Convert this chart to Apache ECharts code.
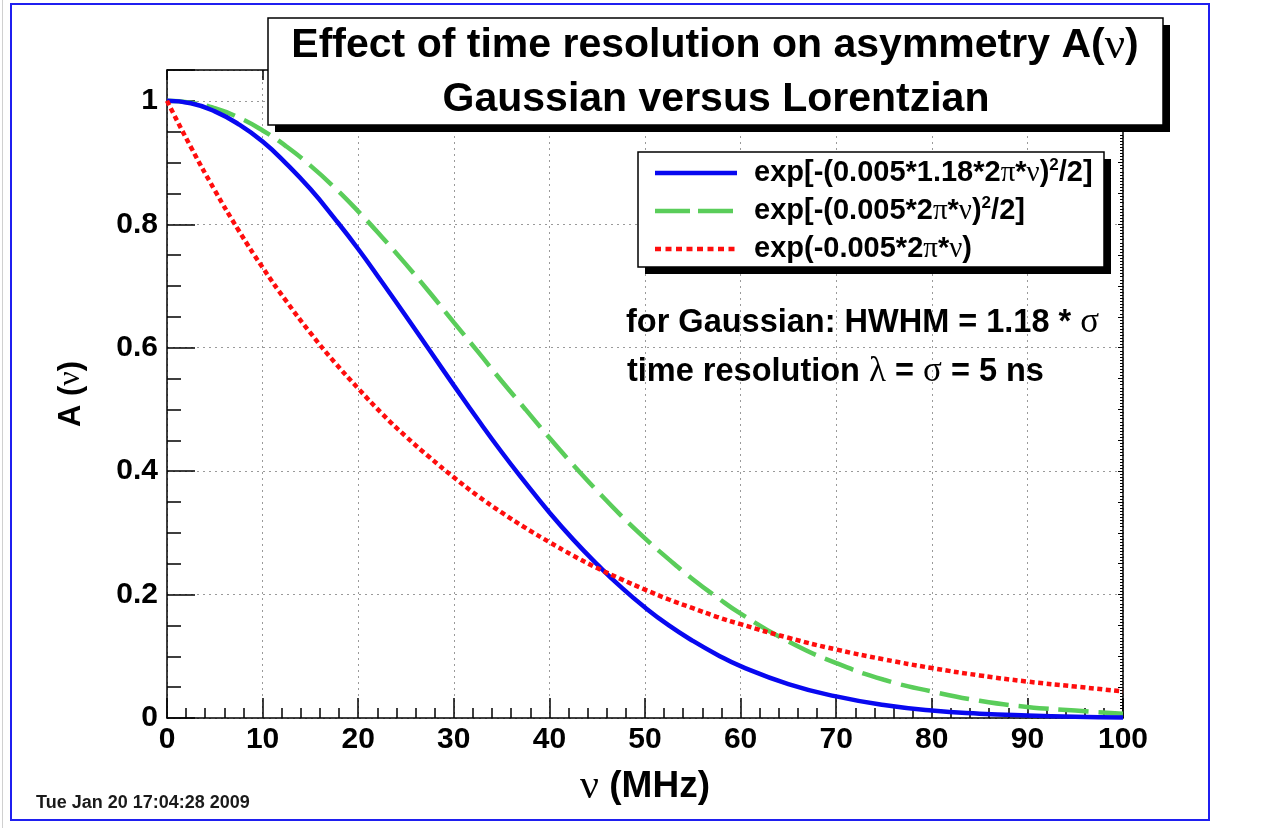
<!DOCTYPE html>
<html>
<head>
<meta charset="utf-8">
<script src="https://cdn.jsdelivr.net/npm/echarts@6/dist/echarts.min.js"></script>
<style>html,body{margin:0;padding:0;background:#fff;}#c{width:1288px;height:828px;}</style>
</head>
<body>
<div id="c"></div>
<script>
// frequency nu (MHz)
var nu = [0,2.5,5,7.5,10,12.5,15,17.5,20,22.5,25,27.5,30,32.5,35,37.5,40,42.5,45,47.5,50,52.5,55,57.5,60,65,70,75,80,85,90,95,100];
// Gaussian with HWHM factor (blue)
var gaussHWHM = [1,0.996,0.983,0.962,0.934,0.898,0.857,0.810,0.760,0.706,0.651,0.595,0.539,0.484,0.431,0.381,0.333,0.289,0.249,0.212,0.179,0.150,0.125,0.103,0.084,0.055,0.035,0.021,0.012,0.007,0.004,0.002,0.001];
// Gaussian (green dashed)
var gauss = [1,0.997,0.988,0.973,0.952,0.926,0.895,0.860,0.821,0.779,0.735,0.689,0.641,0.594,0.546,0.500,0.454,0.410,0.368,0.328,0.291,0.257,0.225,0.196,0.169,0.124,0.089,0.062,0.043,0.028,0.018,0.012,0.007];
// Lorentzian / exponential (red dotted)
var lorentz = [1,0.925,0.855,0.790,0.730,0.675,0.624,0.577,0.534,0.493,0.456,0.422,0.390,0.360,0.333,0.308,0.285,0.263,0.243,0.225,0.208,0.192,0.178,0.164,0.152,0.130,0.111,0.095,0.081,0.069,0.059,0.051,0.043];

var legendLabels = ['blue','green','red'];
var xTicks = [0,10,20,30,40,50,60,70,80,90,100];
var yTicks = [0,0.2,0.4,0.6,0.8,1];

function pairs(ys){ return nu.map(function(x,i){ return [x, ys[i]]; }); }

var SANS = 'Liberation Sans, Arial, Helvetica, sans-serif';
var SERIF = 'Liberation Serif, DejaVu Serif, serif';
var BLUE = '#0808f0', GREEN = '#5acd5a', RED = '#ff0d0d';

var chart = echarts.init(document.getElementById('c'), null, {renderer:'canvas'});

var gridLine = {show:true, lineStyle:{color:'#9a9a9a', type:[2,4], width:1}};
var labelStyle = {color:'#000', fontFamily:SANS, fontWeight:'bold', fontSize:30};

function greekRich(size, gsize){
  return {
    g:{fontFamily:SERIF, fontWeight:'normal', fontSize:gsize || size, color:'#000'},
    t:{fontFamily:SANS, fontWeight:'bold', fontSize:size, color:'#000'}
  };
}
function supRich(size){
  var r = greekRich(size);
  r.s = {fontFamily:SANS, fontWeight:'bold', fontSize:Math.round(size*0.6), color:'#000', verticalAlign:'top', lineHeight:size+4};
  return r;
}

var option = {
  backgroundColor:'#fff',
  animation:false,
  grid:{left:167, right:165, top:70, bottom:110, containLabel:false},
  xAxis:[{
    type:'value', min:0, max:100, interval:10, position:'bottom',
    axisLine:{show:true, onZero:false, lineStyle:{color:'#000', width:1.5}},
    axisTick:{show:true, inside:true, length:20, lineStyle:{color:'#000', width:1.5}},
    minorTick:{show:true, splitNumber:5, length:10, lineStyle:{color:'#000', width:1.5}},
    splitLine:gridLine,
    axisLabel:Object.assign({margin:7}, labelStyle),
    name:'{g|ν}{t| (MHz)}', nameLocation:'middle', nameGap:48,
    nameTextStyle:{rich:{g:{fontFamily:SERIF, fontSize:42, color:'#000'}, t:{fontFamily:SANS, fontWeight:'bold', fontSize:37, color:'#000'}}}
  },{
    type:'value', min:0, max:100, interval:10, position:'top',
    axisLine:{show:true, onZero:false, lineStyle:{color:'#000', width:1.5}},
    axisTick:{show:true, inside:true, length:10, lineStyle:{color:'#000', width:1.5}},
    axisLabel:{show:false}, splitLine:{show:false}
  }],
  yAxis:[{
    type:'value', min:0, max:1.05, interval:0.2, position:'left',
    axisLine:{show:true, onZero:false, lineStyle:{color:'#000', width:1.5}},
    axisTick:{show:true, inside:true, length:28, lineStyle:{color:'#000', width:1.5}},
    minorTick:{show:true, splitNumber:4, length:14, lineStyle:{color:'#000', width:1.5}},
    splitLine:gridLine,
    axisLabel:Object.assign({margin:9, showMaxLabel:false}, labelStyle),
    name:'{t|A (}{g|ν}{t|)}', nameLocation:'middle', nameGap:80, nameRotate:90,
    nameTextStyle:{rich:{g:{fontFamily:SERIF, fontSize:32, color:'#000'}, t:{fontFamily:SANS, fontWeight:'bold', fontSize:31, color:'#000'}}}
  },{
    type:'value', min:0, max:1.05, interval:0.05, position:'right',
    axisLine:{show:true, onZero:false, lineStyle:{color:'#000', width:1.5}},
    axisTick:{show:true, inside:true, length:5, lineStyle:{color:'#000', width:1}},
    minorTick:{show:true, splitNumber:10, length:3, lineStyle:{color:'#000', width:1}},
    axisLabel:{show:false}, splitLine:{show:false}
  }],
  series:[
    {name:legendLabels[0], type:'line', data:pairs(gaussHWHM), showSymbol:false, smooth:true,
     lineStyle:{color:BLUE, width:4.5}, z:4},
    {name:legendLabels[1], type:'line', data:pairs(gauss), showSymbol:false, smooth:true,
     lineStyle:{color:GREEN, width:4.5, type:[30,10]}, z:3},
    {name:legendLabels[2], type:'line', data:pairs(lorentz), showSymbol:false, smooth:true,
     lineStyle:{color:RED, width:4.5, type:[5,3.5]}, z:5}
  ],
  graphic:[
    // page borders
    {type:'line', z:1, shape:{x1:2.5,y1:0,x2:2.5,y2:828}, style:{stroke:'#d0d0d0', lineWidth:1}},
    {type:'rect', z:1, shape:{x:11,y:4,width:1198,height:816}, style:{fill:null, stroke:'#1f1ff0', lineWidth:2}},
    // title box
    {type:'rect', z:100, shape:{x:275,y:25,width:895,height:107}, style:{fill:'#000'}},
    {type:'rect', z:101, shape:{x:268,y:18,width:895,height:107}, style:{fill:'#fff', stroke:'#000', lineWidth:1.5}},
    {type:'text', z:102, style:{x:715, y:46, text:'{t|Effect of time resolution on asymmetry A(}{g|ν}{t|)}',
      textAlign:'center', textVerticalAlign:'middle', rich:greekRich(41, 45)}},
    {type:'text', z:102, style:{x:716, y:100, text:'Gaussian versus Lorentzian',
      textAlign:'center', textVerticalAlign:'middle', font:'bold 41px '+SANS, fill:'#000'}},
    // legend box
    {type:'rect', z:100, shape:{x:645,y:159,width:466,height:115}, style:{fill:'#000'}},
    {type:'rect', z:101, shape:{x:638,y:152,width:466,height:115}, style:{fill:'#fff', stroke:'#000', lineWidth:1.5}},
    {type:'line', z:102, shape:{x1:655,y1:173,x2:737,y2:173}, style:{stroke:BLUE, lineWidth:4.5}},
    {type:'line', z:102, shape:{x1:655,y1:211,x2:737,y2:211}, style:{stroke:GREEN, lineWidth:4.5, lineDash:[35,8]}},
    {type:'line', z:102, shape:{x1:655,y1:249,x2:737,y2:249}, style:{stroke:RED, lineWidth:4.5, lineDash:[6,4.5]}},
    {type:'text', z:102, style:{x:754, y:173, textAlign:'left', textVerticalAlign:'middle',
      text:'{t|exp[-(0.005*1.18*2}{g|π}{t|*}{g|ν}{t|)}{s|2}{t|/2]}', rich:supRich(29)}},
    {type:'text', z:102, style:{x:754, y:211, textAlign:'left', textVerticalAlign:'middle',
      text:'{t|exp[-(0.005*2}{g|π}{t|*}{g|ν}{t|)}{s|2}{t|/2]}', rich:supRich(29)}},
    {type:'text', z:102, style:{x:754, y:249, textAlign:'left', textVerticalAlign:'middle',
      text:'{t|exp(-0.005*2}{g|π}{t|*}{g|ν}{t|)}', rich:greekRich(29)}},
    // annotations
    {type:'text', z:90, style:{x:626, y:323, textAlign:'left', textVerticalAlign:'middle',
      text:'{t|for Gaussian: HWHM = 1.18 * }{g|σ}', rich:greekRich(32.5, 35)}},
    {type:'text', z:90, style:{x:627, y:372, textAlign:'left', textVerticalAlign:'middle',
      text:'{t|time resolution }{g|λ}{t| = }{g|σ}{t| = 5 ns}', rich:greekRich(32.5, 35)}},
    // date stamp
    {type:'text', z:90, style:{x:36, y:803, textAlign:'left', textVerticalAlign:'middle',
      text:'Tue Jan 20 17:04:28 2009', font:'bold 18px '+SANS, fill:'#1a1a1a'}}
  ]
};
chart.setOption(option);
</script>
</body>
</html>
